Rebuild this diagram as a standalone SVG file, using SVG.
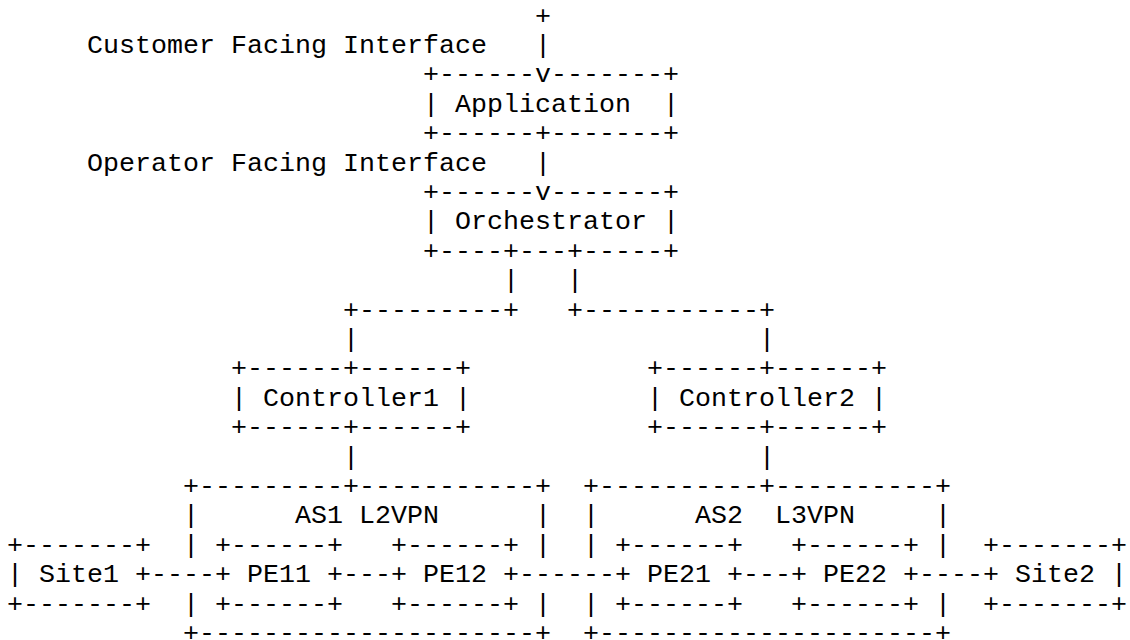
<svg xmlns="http://www.w3.org/2000/svg" width="1130" height="640" viewBox="0 0 1130 640" xml:space="preserve">
<style>
text{font-family:"Courier New","Liberation Mono",monospace;font-size:26.667px;fill:#000;white-space:pre}
</style>
<rect x="0" y="0" width="1130" height="640" fill="#fff"/>
<g id="connectors">
<text x="535" y="23.6">+</text>
<text x="535" y="53">|</text>
<text x="535" y="170.6">|</text>
<text x="503" y="288.2">|</text>
<text x="567" y="288.2">|</text>
<text x="343" y="317.6">+---------+</text>
<text x="567" y="317.6">+-----------+</text>
<text x="343" y="347">|</text>
<text x="759" y="347">|</text>
<text x="343" y="464.6">|</text>
<text x="759" y="464.6">|</text>
<text x="151" y="582.2">----</text>
<text x="343" y="582.2">---</text>
<text x="519" y="582.2">------</text>
<text x="743" y="582.2">---</text>
<text x="919" y="582.2">----</text>
</g>
<g id="labels">
<text x="87" y="53">Customer Facing Interface</text>
<text x="87" y="170.6">Operator Facing Interface</text>
</g>
<g id="application">
<text x="423" y="82.4">+------v-------+</text>
<text x="423" y="111.8">| Application  |</text>
<text x="423" y="141.2">+------+-------+</text>
</g>
<g id="orchestrator">
<text x="423" y="200">+------v-------+</text>
<text x="423" y="229.4">| Orchestrator |</text>
<text x="423" y="258.8">+----+---+-----+</text>
</g>
<g id="controller1">
<text x="231" y="376.4">+------+------+</text>
<text x="231" y="405.8">| Controller1 |</text>
<text x="231" y="435.2">+------+------+</text>
</g>
<g id="controller2">
<text x="647" y="376.4">+------+------+</text>
<text x="647" y="405.8">| Controller2 |</text>
<text x="647" y="435.2">+------+------+</text>
</g>
<g id="as1">
<text x="183" y="494">+---------+-----------+</text>
<text x="183" y="523.4">|      AS1 L2VPN      |</text>
<text x="183" y="552.8">|</text>
<text x="535" y="552.8">|</text>
<text x="183" y="611.6">|</text>
<text x="535" y="611.6">|</text>
<text x="183" y="641">+---------------------+</text>
</g>
<g id="as2">
<text x="583" y="494">+----------+----------+</text>
<text x="583" y="523.4">|      AS2  L3VPN     |</text>
<text x="583" y="552.8">|</text>
<text x="935" y="552.8">|</text>
<text x="583" y="611.6">|</text>
<text x="935" y="611.6">|</text>
<text x="583" y="641">+---------------------+</text>
</g>
<g id="site1">
<text x="7" y="552.8">+-------+</text>
<text x="7" y="582.2">| Site1 +</text>
<text x="7" y="611.6">+-------+</text>
</g>
<g id="pe11">
<text x="215" y="552.8">+------+</text>
<text x="215" y="582.2">+ PE11 +</text>
<text x="215" y="611.6">+------+</text>
</g>
<g id="pe12">
<text x="391" y="552.8">+------+</text>
<text x="391" y="582.2">+ PE12 +</text>
<text x="391" y="611.6">+------+</text>
</g>
<g id="pe21">
<text x="615" y="552.8">+------+</text>
<text x="615" y="582.2">+ PE21 +</text>
<text x="615" y="611.6">+------+</text>
</g>
<g id="pe22">
<text x="791" y="552.8">+------+</text>
<text x="791" y="582.2">+ PE22 +</text>
<text x="791" y="611.6">+------+</text>
</g>
<g id="site2">
<text x="983" y="552.8">+-------+</text>
<text x="983" y="582.2">+ Site2 |</text>
<text x="983" y="611.6">+-------+</text>
</g>
</svg>
